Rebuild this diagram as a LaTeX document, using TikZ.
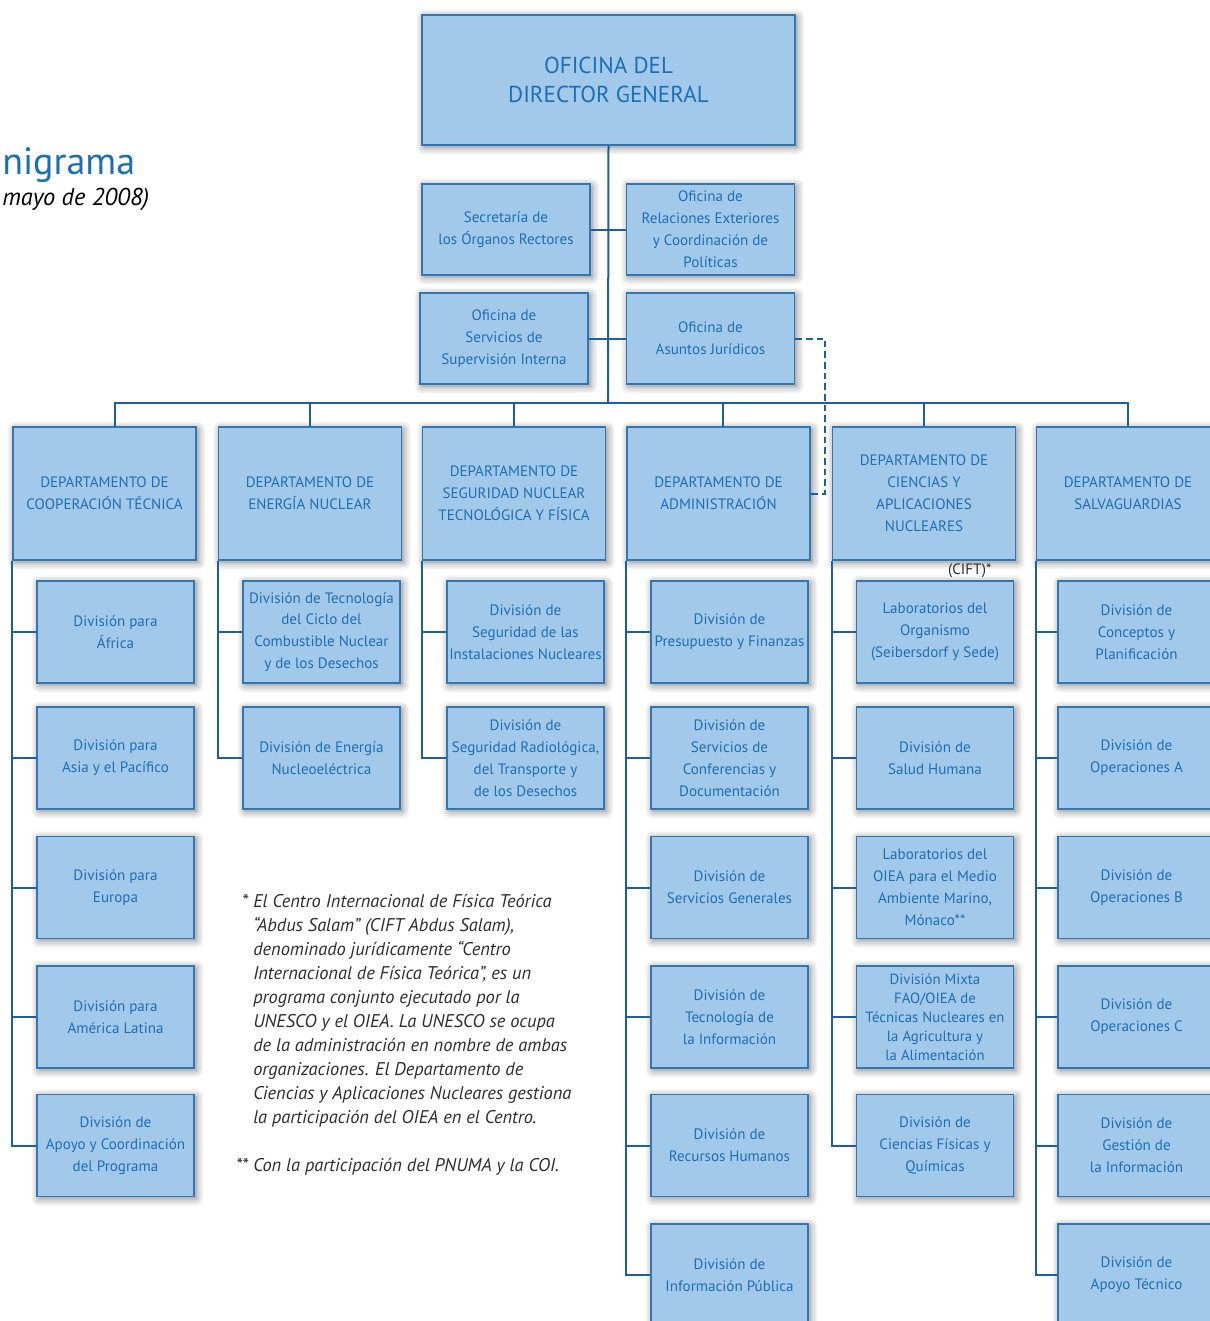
\documentclass[tikz,border=0pt]{standalone}
\usepackage{fontspec}
\setmainfont{PT Sans}
\usepackage{xcolor}
\usetikzlibrary{positioning,shadows.blur}

\definecolor{boxfill}{RGB}{163,201,234}
\definecolor{edgeblue}{RGB}{48,118,178}
\definecolor{lineblue}{RGB}{26,96,160}
\definecolor{txtblue}{RGB}{27,111,181}
\definecolor{notegray}{RGB}{45,45,45}

\begin{document}
\begin{tikzpicture}[x=0.75pt, y=-0.75pt,
  every node/.style={font=\fontsize{11.3}{16.4}\selectfont, text=txtblue, align=center, inner sep=1pt},
  box/.style={draw=edgeblue, line width=1.2pt, fill=boxfill,
    blur shadow={shadow xshift=1.5pt, shadow yshift=-1.5pt, shadow blur radius=6pt, shadow blur steps=8, shadow opacity=50}},
  office/.style={box, minimum width=126pt, minimum height=68.25pt},
  dept/.style={box, minimum width=137.25pt, minimum height=99.75pt},
  div/.style={box, minimum width=117.75pt, minimum height=76.5pt},
  link/.style={draw=lineblue, line width=1.5pt},
  note/.style={font=\fontsize{13.8}{18}\selectfont\itshape, text=notegray, align=left, inner sep=0pt}]
\useasboundingbox (0,0) rectangle (1210,1321);

% title
\node[anchor=base west, font=\fontsize{28.5}{32}\selectfont, text=txtblue, inner sep=0pt] (title) at (2,174) {nigrama};
\node[anchor=base west, font=\fontsize{18.3}{22}\selectfont\itshape, text=black, inner sep=0pt] (date) at (2,205) {mayo de 2008)};

% top offices
\node[box, minimum width=279.75pt, minimum height=97.5pt, font=\fontsize{17.3}{22}\selectfont] (dg) at (608.5,80) {OFICINA DEL\\DIRECTOR GENERAL};
\node[office] (sec) at (506,229.5) {Secretaría de\\los Órganos Rectores};
\node[office] (rel) at (710.5,229.5) {Oficina de\\Relaciones Exteriores\\y Coordinación de\\Políticas};
\node[office] (sup) at (504,338.5) {Oficina de\\Servicios de\\Supervisión Interna};
\node[office] (jur) at (710.5,338.5) {Oficina de\\Asuntos Jurídicos};
\coordinate (bus) at (608,403);
\coordinate (jd) at (825,403);

% departments
\node[dept] (coop) at (104.5,493.5) {DEPARTAMENTO DE\\COOPERACIÓN TÉCNICA};
\node[dept] (ener) at (310,493.5) {DEPARTAMENTO DE\\ENERGÍA NUCLEAR};
\node[dept] (segu) at (514,493.5) {DEPARTAMENTO DE\\SEGURIDAD NUCLEAR\\TECNOLÓGICA Y FÍSICA};
\node[dept] (admi) at (718.5,493.5) {DEPARTAMENTO DE\\ADMINISTRACIÓN};
\node[dept] (cien) at (924,493.5) {DEPARTAMENTO DE\\CIENCIAS Y\\APLICACIONES\\NUCLEARES};
\node[dept] (salv) at (1128,493.5) {DEPARTAMENTO DE\\SALVAGUARDIAS};

% cooperacion tecnica
\node[div] (afri) at (115.5,632) {División para\\África};
\node[div] (asia) at (115.5,758) {División para\\Asia y el Pacífico};
\node[div] (euro) at (115.5,887.5) {División para\\Europa};
\node[div] (amer) at (115.5,1017) {División para\\América Latina};
\node[div] (apoy) at (115.5,1145.5) {División de\\Apoyo y Coordinación\\del Programa};

% energia nuclear
\node[div] (cicl) at (321.5,632) {División de Tecnología\\del Ciclo del\\Combustible Nuclear\\y de los Desechos};
\node[div] (nucl) at (321.5,758) {División de Energía\\Nucleoeléctrica};

% seguridad
\node[div] (inst) at (525.5,632) {División de\\Seguridad de las\\Instalaciones Nucleares};
\node[div] (radi) at (525.5,758) {División de\\Seguridad Radiológica,\\del Transporte y\\de los Desechos};

% administracion
\node[div] (pres) at (729.5,632) {División de\\Presupuesto y Finanzas};
\node[div] (conf) at (729.5,758) {División de\\Servicios de\\Conferencias y\\Documentación};
\node[div] (gene) at (729.5,887.5) {División de\\Servicios Generales};
\node[div] (tecn) at (729.5,1017) {División de\\Tecnología de\\la Información};
\node[div] (recu) at (729.5,1145.5) {División de\\Recursos Humanos};
\node[div] (publ) at (729.5,1275) {División de\\Información Pública};

% ciencias
\node[div] (labo) at (935,632) {Laboratorios del\\Organismo\\(Seibersdorf y Sede)};
\node[div] (salu) at (935,758) {División de\\Salud Humana};
\node[div] (mona) at (935,887.5) {Laboratorios del\\OIEA para el Medio\\Ambiente Marino,\\Mónaco**};
\node[div, font=\fontsize{11.1}{14.3}\selectfont] (mixt) at (935,1017) {División Mixta\\FAO/OIEA de\\Técnicas Nucleares en\\la Agricultura y\\la Alimentación};
\node[div] (fisi) at (935,1145.5) {División de\\Ciencias Físicas y\\Químicas};
\node[anchor=east, font=\fontsize{11.3}{12}\selectfont, text=notegray] (cift) at (993,571) {(CIFT)*};

% salvaguardias
\node[div] (conc) at (1136.5,632) {División de\\Conceptos y\\Planificación};
\node[div] (opea) at (1136.5,758) {División de\\Operaciones A};
\node[div] (opeb) at (1136.5,887.5) {División de\\Operaciones B};
\node[div] (opec) at (1136.5,1017) {División de\\Operaciones C};
\node[div] (gest) at (1136.5,1145.5) {División de\\Gestión de\\la Información};
\node[div] (tecs) at (1136.5,1275) {División de\\Apoyo Técnico};

% notes
\node[note, anchor=north west] (nota1) at (253,894) {\llap{* }El Centro Internacional de Física Teórica\\
 “Abdus Salam” (CIFT Abdus Salam),\\
 denominado jurídicamente “Centro\\
 Internacional de Física Teórica”, es un\\
 programa conjunto ejecutado por la\\
 UNESCO y el OIEA. La UNESCO se ocupa\\
 de la administración en nombre de ambas\\
 organizaciones. El Departamento de\\
 Ciencias y Aplicaciones Nucleares gestiona\\
 la participación del OIEA en el Centro.};
\node[note, anchor=north west] (nota2) at (253,1158) {\llap{** }Con la participación del PNUMA y la COI.};

% connectors
\draw[link] (dg.south) -- (bus);
\draw[link] (sec.east) -- (rel.west);
\draw[link] (sup.east) -- (jur.west);
\draw[link] ([xshift=8pt]coop.north) |- (bus) -| (salv.north);
\draw[link] (ener.north) -- (ener.north |- bus);
\draw[link] (segu.north) -- (segu.north |- bus);
\draw[link] ([xshift=3pt]admi.north) -- ([xshift=3pt]admi.north |- bus);
\draw[link] (cien.north) -- (cien.north |- bus);
\draw[link, dash pattern=on 5pt off 3pt] (jur.east) -- (jur.east -| jd) |- (admi.east);

\draw[link] (coop.south west) |- (afri.west);
\draw[link] (coop.south west) |- (asia.west);
\draw[link] (coop.south west) |- (euro.west);
\draw[link] (coop.south west) |- (amer.west);
\draw[link] (coop.south west) |- (apoy.west);

\draw[link] (ener.south west) |- (cicl.west);
\draw[link] (ener.south west) |- (nucl.west);

\draw[link] (segu.south west) |- (inst.west);
\draw[link] (segu.south west) |- (radi.west);

\draw[link] (admi.south west) |- (pres.west);
\draw[link] (admi.south west) |- (conf.west);
\draw[link] (admi.south west) |- (gene.west);
\draw[link] (admi.south west) |- (tecn.west);
\draw[link] (admi.south west) |- (recu.west);
\draw[link] (admi.south west) |- (publ.west);

\draw[link] (cien.south west) |- (labo.west);
\draw[link] (cien.south west) |- (salu.west);
\draw[link] (cien.south west) |- (mona.west);
\draw[link] (cien.south west) |- (mixt.west);
\draw[link] (cien.south west) |- (fisi.west);

\draw[link] (salv.south west) |- (conc.west);
\draw[link] (salv.south west) |- (opea.west);
\draw[link] (salv.south west) |- (opeb.west);
\draw[link] (salv.south west) |- (opec.west);
\draw[link] (salv.south west) |- (gest.west);
\draw[link] (salv.south west) |- (tecs.west);
\end{tikzpicture}
\end{document}
